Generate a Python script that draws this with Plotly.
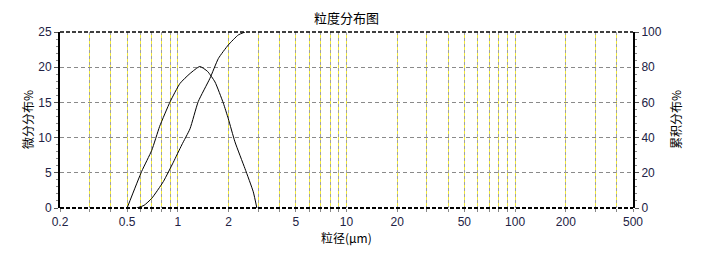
import plotly.graph_objects as go
import math

# ---- data ----
diff_x = [0.50, 0.61, 0.70, 0.78, 0.90, 1.03, 1.18, 1.35, 1.50, 1.66, 1.86, 1.99, 2.18, 2.50, 2.80, 2.94]
diff_y = [0.0, 5.2, 8.2, 11.6, 15.1, 17.7, 19.1, 20.1, 19.4, 17.9, 14.9, 12.7, 9.4, 5.6, 2.3, 0.0]

cum_x = [0.57, 0.63, 0.70, 0.82, 0.94, 1.054, 1.18, 1.32, 1.55, 1.74, 1.99, 2.28, 2.50]
cum_y = [0.0, 1.5, 5.5, 15.0, 26.0, 35.8, 45.0, 60.4, 73.7, 85.0, 92.6, 98.3, 100.0]

grid_vals = [0.2, 0.3, 0.4, 0.5, 0.6, 0.7, 0.8, 0.9,
             1, 2, 3, 4, 5, 6, 7, 8, 9,
             10, 20, 30, 40, 50, 60, 70, 80, 90,
             100, 200, 300, 400, 500]
labeled = {0.2: "0.2", 0.5: "0.5", 1: "1", 2: "2", 5: "5", 10: "10", 20: "20",
           50: "50", 100: "100", 200: "200", 500: "500"}
grid_text = [labeled.get(v, "") for v in grid_vals]

title = "粒度分布图"
x_title = "粒径(μm)"
y1_title = "微分分布%"
y2_title = "累积分布%"

FONT = "Liberation Sans, Arial, sans-serif"
CJK = "Noto Sans CJK SC"
TICKC = "#222244"

fig = go.Figure()
fig.add_trace(go.Scatter(x=diff_x, y=diff_y, mode="lines",
                         line=dict(color="black", width=1, shape="spline", smoothing=0.5),
                         xaxis="x", yaxis="y", showlegend=False))
fig.add_trace(go.Scatter(x=cum_x, y=cum_y, mode="lines",
                         line=dict(color="black", width=1, shape="spline", smoothing=0.5),
                         xaxis="x", yaxis="y2", showlegend=False))
# helper invisible trace so the overlay x-axis (gray dashed grid) renders
fig.add_trace(go.Scatter(x=diff_x, y=diff_y, mode="lines", opacity=0, hoverinfo="skip",
                         xaxis="x2", yaxis="y", showlegend=False))

xr = [math.log10(0.2), math.log10(500)]

fig.update_layout(
    width=702, height=254,
    margin=dict(l=60, r=69, t=32, b=46),
    paper_bgcolor="white", plot_bgcolor="white",
    font=dict(family=FONT, size=12, color=TICKC),
    xaxis=dict(type="log", range=xr, tickvals=grid_vals, ticktext=grid_text,
               showgrid=True, gridcolor="#f2ea3c", gridwidth=1,
               ticks="outside", ticklen=3, tickcolor="#888",
               showline=False, zeroline=False,
               tickfont=dict(family=FONT, size=12, color=TICKC)),
    xaxis2=dict(type="log", range=xr, tickvals=grid_vals, overlaying="x",
                showgrid=True, gridcolor="#a0a0a0", griddash="3px,3px", gridwidth=1,
                showticklabels=False, ticks="", showline=False, zeroline=False),
    yaxis=dict(range=[0, 25], dtick=5, showgrid=True, gridcolor="#8a8a8a",
               griddash="4px,3px", gridwidth=1,
               ticks="outside", ticklen=4, tickcolor="#555",
               minor=dict(dtick=1, ticks="outside", ticklen=2, tickcolor="#888"),
               showline=True, linecolor="black", linewidth=2, zeroline=False,
               tickfont=dict(family=FONT, size=12, color=TICKC)),
    yaxis2=dict(range=[0, 100], dtick=20, overlaying="y", side="right",
                showgrid=False, ticks="outside", ticklen=4, tickcolor="#555",
                minor=dict(dtick=4, ticks="outside", ticklen=2, tickcolor="#888"),
                showline=True, linecolor="black", linewidth=2, zeroline=False,
                tickfont=dict(family=FONT, size=12, color=TICKC)),
    shapes=[
        dict(type="line", xref="paper", yref="paper", x0=0, x1=1, y0=1, y1=1,
             line=dict(color="black", width=1.5, dash="4px,2px")),
        dict(type="line", xref="paper", yref="paper", x0=0, x1=1, y0=0, y1=0,
             line=dict(color="black", width=2, dash="4px,2px")),
    ],
    annotations=[
        dict(text=title, xref="paper", yref="paper", x=0.5, y=1, yshift=15,
             xanchor="center", yanchor="middle",
             showarrow=False, font=dict(family=CJK, size=13, color="black")),
        dict(text=x_title, xref="paper", yref="paper", x=0.5, y=0, yshift=-29,
             xanchor="center", yanchor="middle",
             showarrow=False, font=dict(family=CJK, size=12, color="black")),
        dict(text=y1_title, xref="paper", yref="paper", x=0, xshift=-33, y=0.5,
             xanchor="center", yanchor="middle",
             textangle=-90, showarrow=False, font=dict(family=CJK, size=12, color="black")),
        dict(text=y2_title, xref="paper", yref="paper", x=1, xshift=42, y=0.5,
             xanchor="center", yanchor="middle",
             textangle=-90, showarrow=False, font=dict(family=CJK, size=12, color="black")),
    ],
)

fig.write_html("out.html")
